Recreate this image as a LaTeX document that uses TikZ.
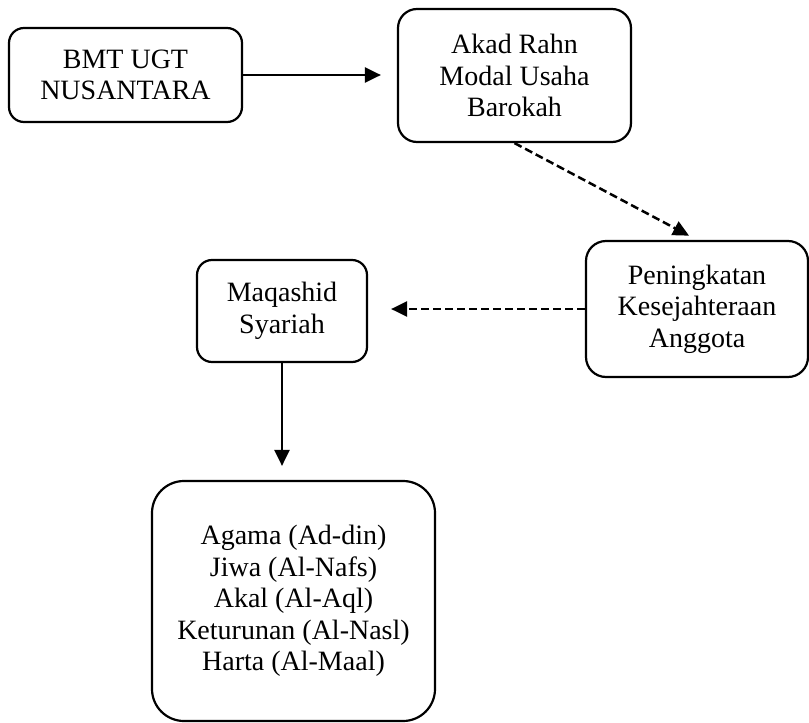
\documentclass[tikz,border=0pt]{standalone}
\usepackage{fontspec}
\setmainfont{Liberation Serif}
\usetikzlibrary{arrows.meta}
\begin{document}
\begin{tikzpicture}[x=1pt,y=-1pt,
  box/.style={draw,line width=2.2pt,align=center,inner sep=0pt,font=\fontsize{28}{31.5}\selectfont},
  arr/.style={line width=2.5pt,-{Triangle[length=16pt,width=15pt]}},
  darr/.style={arr,dash pattern=on 8pt off 4pt}]
\useasboundingbox (0,0) rectangle (809,723);
\node[box,rounded corners=15pt,minimum width=233pt,minimum height=94pt] (bmt) at (125.5,75) {BMT UGT\\NUSANTARA};
\node[box,rounded corners=19pt,minimum width=233pt,minimum height=133pt] (akad) at (514.5,75.5) {Akad Rahn\\Modal Usaha\\Barokah};
\node[box,rounded corners=20pt,minimum width=222pt,minimum height=136pt] (pen) at (697,309) {Peningkatan\\Kesejahteraan\\Anggota};
\node[box,rounded corners=15pt,minimum width=170pt,minimum height=102pt] (maq) at (282,311) {Maqashid\\Syariah};
\node[box,rounded corners=32pt,minimum width=283pt,minimum height=240pt] (bot) at (293.5,601) {Agama (Ad-din)\\Jiwa (Al-Nafs)\\Akal (Al-Aql)\\Keturunan (Al-Nasl)\\Harta (Al-Maal)};
\draw[arr,shorten >=16pt] (bmt.east) -- (bmt.east -| akad.west);
\draw[darr,shorten >=9pt] (akad.south) -- (pen.north);
\draw[darr,shorten >=23pt] (pen.west) -- (pen.west -| maq.east);
\draw[arr,shorten >=14pt] (maq.south) -- (maq.south |- bot.north);
\end{tikzpicture}
\end{document}
